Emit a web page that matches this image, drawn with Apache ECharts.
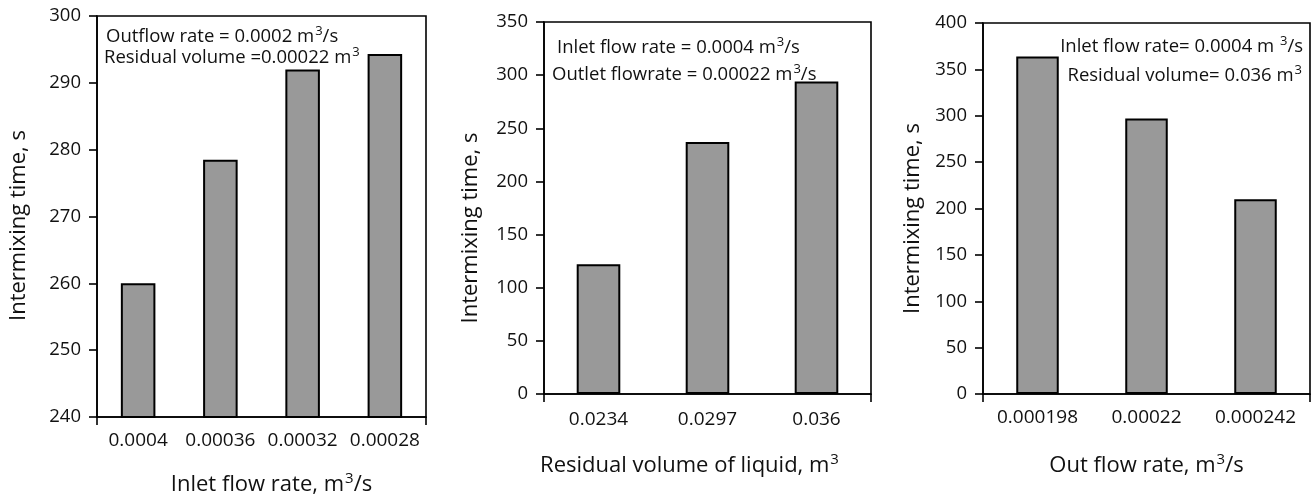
<!DOCTYPE html>
<html><head><meta charset="utf-8">
<script src="https://cdn.jsdelivr.net/npm/echarts@6/dist/echarts.min.js"></script>
<style>html,body{margin:0;padding:0;background:#fff}#c{width:1314px;height:497px}</style>
</head><body><div id="c"></div>
<script>
// ---- data ----
const catsA = ['0.0004', '0.00036', '0.00032', '0.00028'];
const valsA = [260, 278.5, 292, 294.3];
const catsB = ['0.0234', '0.0297', '0.036'];
const valsB = [122, 237, 294];
const catsC = ['0.000198', '0.00022', '0.000242'];
const valsC = [364, 297, 210];
const yRangeA = [240, 300, 10];
const yRangeB = [0, 350, 50];
const yRangeC = [0, 400, 50];
const yNames = ['Intermixing time, s', 'Intermixing time, s', 'Intermixing time, s'];
const xNames = ['Inlet flow rate, m{sup|3}/s', 'Residual volume of liquid, m{sup|3}', 'Out flow rate, m{sup|3}/s'];
const notesA = ['Outflow rate = 0.0002 m{sup|3}/s', 'Residual volume =0.00022 m{sup|3}'];
const notesB = ['Inlet flow rate = 0.0004 m{sup|3}/s', 'Outlet flowrate = 0.00022 m{sup|3}/s'];
const notesC = ['Inlet flow rate= 0.0004 m {sup|3}/s', 'Residual volume= 0.036 m{sup|3}'];

const FONT = '"Open Sans", "Noto Sans", sans-serif';
const INK = '#111';
const supRich = (fs) => ({ sup: { fontSize: fs, verticalAlign: 'top', fontFamily: FONT, color: INK, padding: [0, 0, 0, 1] } });

const grids = [
  { left: 97, right: 888, top: 16, bottom: 80 },
  { left: 544, right: 443, top: 22, bottom: 103 },
  { left: 983, right: 4, top: 23, bottom: 103 }
];
const cats = [catsA, catsB, catsC];
const vals = [valsA, valsB, valsC];
const yr = [yRangeA, yRangeB, yRangeC];
const yGap = [67, 62, 59];
const yNamePad = [[0, 18, 0, 0], [0, 40, 0, 0], [0, 20, 0, 0]];
const xGap = [54, 58, 58];
const xNamePad = [[0, 0, 0, 20], [0, 36, 0, 0], [0, 0, 0, 0]];
const xMargin = [14, 16, 14];
const barW = ['42%', '40%', '39%'];

const axisLine = { show: true, lineStyle: { color: '#000', width: 1.6 } };

const option = {
  backgroundColor: '#fff',
  animation: false,
  title: [
    { text: notesA[0], left: 106, top: 25 },
    { text: notesA[1], left: 104, top: 46 },
    { text: notesB[0], left: 557, top: 36 },
    { text: notesB[1], left: 552, top: 63 },
    { text: notesC[0], right: 11, top: 35 },
    { text: notesC[1], right: 12, top: 64 }
  ].map(t => Object.assign({ padding: 0, textStyle: { fontFamily: FONT, fontSize: 18.5, lineHeight: 23, fontWeight: 'normal', color: INK, rich: supRich(13) } }, t)),
  grid: grids.map(g => Object.assign({ show: true, borderColor: '#000', borderWidth: 1.6, backgroundColor: 'transparent', containLabel: false, outerBoundsMode: 'none' }, g)),
  xAxis: cats.map((c, i) => ({
    type: 'category', gridIndex: i, data: c,
    axisLine: axisLine,
    axisTick: { show: true, length: 8, interval: (idx) => idx === 0, lineStyle: { color: '#000', width: 1.6 } },
    axisLabel: { color: INK, fontFamily: FONT, fontSize: 19, margin: xMargin[i], interval: 0 },
    name: xNames[i], nameLocation: 'middle', nameGap: xGap[i],
    nameTextStyle: { color: INK, fontFamily: FONT, fontSize: 22, lineHeight: 27, padding: xNamePad[i], rich: supRich(15) }
  })),
  yAxis: yr.map((r, i) => ({
    type: 'value', gridIndex: i, min: r[0], max: r[1], interval: r[2],
    axisLine: axisLine,
    axisTick: { show: true, length: 8, lineStyle: { color: '#000', width: 1.6 } },
    splitLine: { show: false },
    axisLabel: { color: INK, fontFamily: FONT, fontSize: 18.5, margin: 16 },
    name: yNames[i], nameLocation: 'middle', nameGap: yGap[i],
    nameTextStyle: { color: INK, fontFamily: FONT, fontSize: 22, padding: yNamePad[i] }
  })),
  series: vals.map((v, i) => ({
    type: 'bar', xAxisIndex: i, yAxisIndex: i, data: v, barWidth: barW[i],
    itemStyle: { color: '#999999', borderColor: '#000', borderWidth: 2 }
  }))
};
const chart = echarts.init(document.getElementById('c'), null, { renderer: 'canvas' });
chart.setOption(option);
</script></body></html>
